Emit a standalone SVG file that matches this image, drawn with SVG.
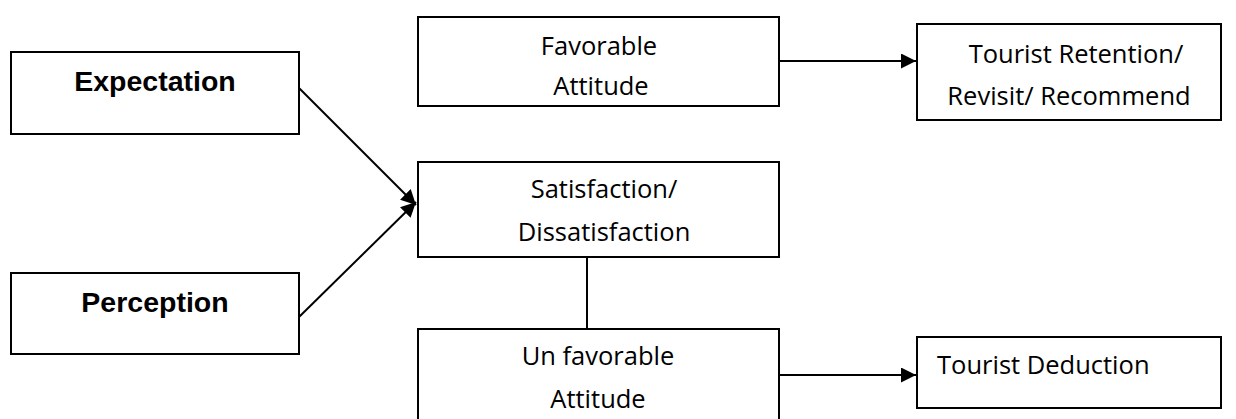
<svg xmlns="http://www.w3.org/2000/svg" width="1236" height="419" viewBox="0 0 1236 419">
<style>
.box{fill:#fff;stroke:#000;stroke-width:2}
.b{font-family:"Liberation Sans",Arial,sans-serif;font-weight:bold;font-size:28.5px;fill:#000;text-anchor:middle}
.t{font-family:"Open Sans","Noto Sans",sans-serif;font-size:25.5px;fill:#000;text-anchor:middle}
.c{stroke:#000;stroke-width:2;fill:none}
</style>
<defs>
<marker id="ah" viewBox="0 0 10 10" refX="10" refY="5" markerWidth="15" markerHeight="15" markerUnits="userSpaceOnUse" orient="auto">
<path d="M0,0 L10,5 L0,10 z" fill="#000"/>
</marker>
</defs>
<g id="expectation">
<rect class="box" x="11" y="52" width="288" height="82"/>
<text class="b" x="155" y="91">Expectation</text>
</g>
<g id="perception">
<rect class="box" x="11" y="273" width="288" height="81"/>
<text class="b" x="155" y="312">Perception</text>
</g>
<g id="favorable">
<rect class="box" x="418" y="17" width="361" height="89"/>
<text class="t" x="599" y="55">Favorable</text>
<text class="t" x="601" y="95">Attitude</text>
</g>
<g id="retention">
<rect class="box" x="917" y="24" width="304" height="96"/>
<text class="t" x="1076" y="63">Tourist Retention/</text>
<text class="t" x="1069" y="105">Revisit/ Recommend</text>
</g>
<g id="satisfaction">
<rect class="box" x="418" y="162" width="361" height="95"/>
<text class="t" x="604" y="198">Satisfaction/</text>
<text class="t" x="604" y="241">Dissatisfaction</text>
</g>
<g id="unfavorable">
<rect class="box" x="418" y="329" width="361" height="100"/>
<text class="t" x="598" y="365">Un favorable</text>
<text class="t" x="598" y="408">Attitude</text>
</g>
<g id="deduction">
<rect class="box" x="917" y="337" width="304" height="71"/>
<text class="t" x="937" y="374" style="text-anchor:start">Tourist Deduction</text>
</g>
<g id="connectors">
<line class="c" x1="299" y1="88" x2="416" y2="205" marker-end="url(#ah)"/>
<line class="c" x1="299" y1="317" x2="416" y2="202" marker-end="url(#ah)"/>
<line class="c" x1="779" y1="61" x2="916" y2="61" marker-end="url(#ah)"/>
<line class="c" x1="587" y1="257" x2="587" y2="329"/>
<line class="c" x1="779" y1="375" x2="916" y2="375" marker-end="url(#ah)"/>
</g>
</svg>
